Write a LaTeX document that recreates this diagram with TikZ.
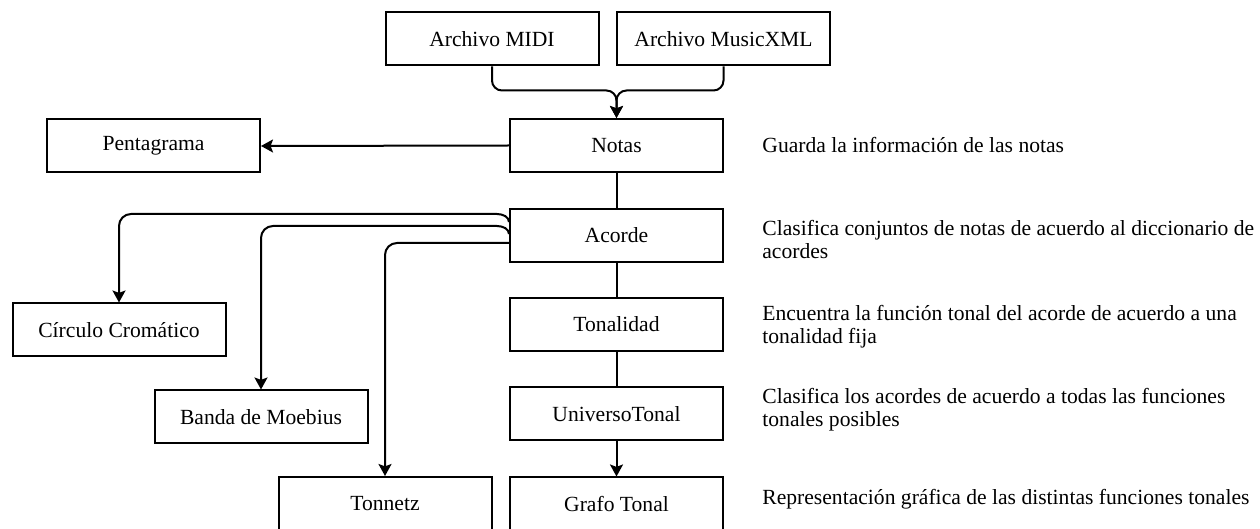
\documentclass[tikz,border=0pt]{standalone}
\usepackage{fontspec}
\setmainfont{Liberation Serif}
\usetikzlibrary{arrows.meta,calc}

\tikzset{
  module/.style={draw, line width=1pt, minimum width=106.5pt, minimum height=26.5pt,
    inner sep=0pt, font=\fontsize{10.8pt}{11.5pt}\selectfont},
  desc/.style={anchor=base west, inner sep=0pt, font=\fontsize{10.8pt}{11.5pt}\selectfont},
  link/.style={line width=1pt},
  flow/.style={line width=1pt, -{Stealth[length=6pt,width=6.5pt,inset=1.2pt]}},
}

\begin{document}
\begin{tikzpicture}[x=0.5pt, y=-0.5pt]
  \useasboundingbox (0,0) rectangle (1260,529);

  % input files
  \node[module] (midi) at (492,39)   {Archivo MIDI};
  \node[module] (xml)  at (723.5,39) {Archivo MusicXML};

  % main processing chain
  \node[module] (notas)    at (616.5,145.5) {Notas};
  \node[module] (acorde)   at (616.5,235.5) {Acorde};
  \node[module] (tonal)    at (616.5,324.5) {Tonalidad};
  \node[module] (universo) at (616.5,414)   {UniversoTonal};
  \node[module] (grafo)    at (616.5,504)   {Grafo Tonal};

  % visualisations
  \node[module] (penta)   at (153.5,146) {Pentagrama};
  \node[module] (circulo) at (119,330)   {Círculo Cromático};
  \node[module] (banda)   at (261,417)   {Banda de Moebius};
  \node[module] (tonnetz) at (385,503.5) {Tonnetz};

  % descriptions of the chain
  \node[desc] (dnotas)    at (762,153) {\parbox[t]{270pt}{Guarda la información de las notas}};
  \node[desc] (dacorde)   at (762,236) {\parbox[t]{270pt}{Clasifica conjuntos de notas de acuerdo al diccionario de\\acordes}};
  \node[desc] (dtonal)    at (762,321) {\parbox[t]{270pt}{Encuentra la función tonal del acorde de acuerdo a una\\tonalidad fija}};
  \node[desc] (duniverso) at (762,404) {\parbox[t]{270pt}{Clasifica los acordes de acuerdo a todas las funciones\\tonales posibles}};
  \node[desc] (dgrafo)    at (762,505) {\parbox[t]{270pt}{Representación gráfica de las distintas funciones tonales}};

  % inputs merge into Notas
  \draw[flow, rounded corners=5pt] (midi.south) -- ++(0,24) -| (notas.north);
  \draw[flow, rounded corners=5pt] (xml.south)  -- ++(0,24) -| (notas.north);

  % chain
  \draw[flow] (notas.west) -- (penta.east);
  \draw[link] (notas.south) -- (acorde.north);
  \draw[link] (acorde.south) -- (tonal.north);
  \draw[link] (tonal.south) -- (universo.north);
  \draw[flow] (universo.south) -- (grafo.north);

  % Acorde feeds the visualisations
  \draw[flow] ([yshift=6.75pt]acorde.west)
    .. controls +(0,-5) and +(6,0) .. ++(-12,-8)
    [rounded corners=6pt] -| (circulo.north);
  \draw[flow] ([yshift=0.75pt]acorde.west)
    .. controls +(0,-5) and +(6,0) .. ++(-12,-8)
    [rounded corners=6pt] -| (banda.north);
  \draw[flow, rounded corners=6pt] ([yshift=-3.75pt]acorde.west) -| (tonnetz.north);
\end{tikzpicture}
\end{document}
